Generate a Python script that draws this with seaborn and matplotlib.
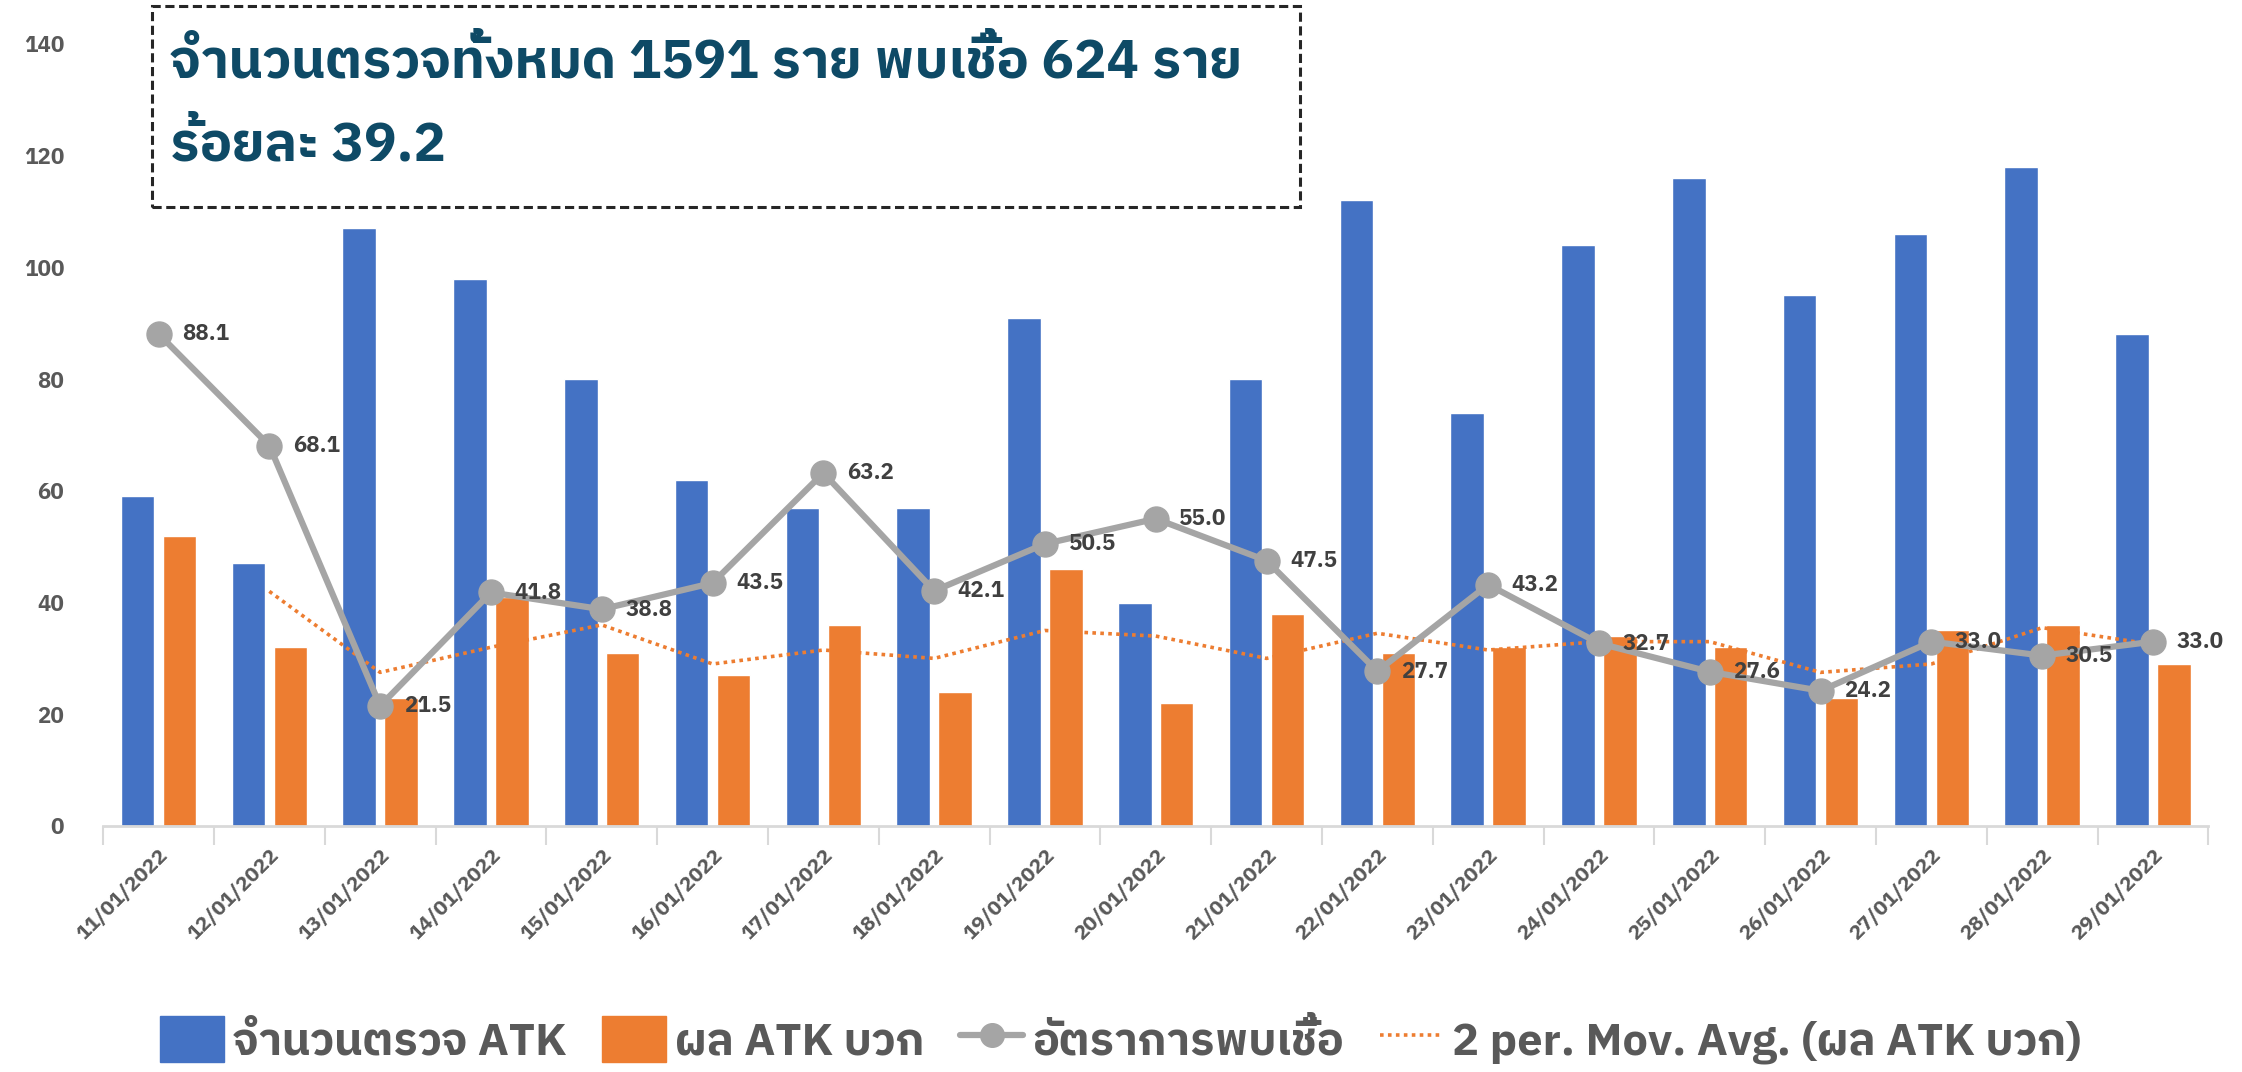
import numpy as np
import pandas as pd
import matplotlib
matplotlib.use("Agg")
import matplotlib.pyplot as plt
import seaborn as sns
from matplotlib import font_manager
from matplotlib.ft2font import FT2Font
from matplotlib.lines import Line2D
from matplotlib.patches import Patch, FancyBboxPatch

# data
dates = ["11/01/2022", "12/01/2022", "13/01/2022", "14/01/2022", "15/01/2022",
         "16/01/2022", "17/01/2022", "18/01/2022", "19/01/2022", "20/01/2022",
         "21/01/2022", "22/01/2022", "23/01/2022", "24/01/2022", "25/01/2022",
         "26/01/2022", "27/01/2022", "28/01/2022", "29/01/2022"]
tested = [59, 47, 107, 98, 80, 62, 57, 57, 91, 40, 80, 112, 74, 104, 116, 95, 106, 118, 88]
positive = [52, 32, 23, 41, 31, 27, 36, 24, 46, 22, 38, 31, 32, 34, 32, 23, 35, 36, 29]
rate = [88.1, 68.1, 21.5, 41.8, 38.8, 43.5, 63.2, 42.1, 50.5, 55.0,
        47.5, 27.7, 43.2, 32.7, 27.6, 24.2, 33.0, 30.5, 33.0]

lbl_tested = "จำนวนตรวจ ATK"
lbl_pos = "ผล ATK บวก"
lbl_rate = "อัตราการพบเชื้อ"
lbl_ma = "2 per. Mov. Avg. (ผล ATK บวก)"
title_lines = ["จำนวนตรวจทั้งหมด 1591 ราย พบเชื้อ 624 ราย", "ร้อยละ 39.2"]


def thai_fonts():
    # installed families with Thai glyphs -> set of weights
    found = {}
    for fe in font_manager.fontManager.ttflist:
        try:
            if 0x0E08 in FT2Font(fe.fname).get_charmap():
                w = fe.weight if isinstance(fe.weight, int) else 400
                found.setdefault(fe.name, set()).add(w)
        except Exception:
            continue
    return found


cands = thai_fonts()
thai = None
for pref in ["IBM Plex Sans Thai", "Sarabun", "Noto Sans Thai", "Prompt", "Bai Jamjuree", "Kanit"]:
    if pref in cands and max(cands[pref]) >= 700:
        thai = pref
        break
if thai is None:
    bold = [n for n, w in cands.items() if max(w) >= 700]
    thai = bold[0] if bold else (sorted(cands)[0] if cands else "DejaVu Sans")

sns.set_theme(style="white")
plt.rcParams["font.family"] = [thai, "DejaVu Sans"]

BLUE = "#4472C4"
ORANGE = "#ED7D31"
GRAY = "#A5A5A5"
TXT = "#595959"

df = pd.DataFrame({"date": dates * 2,
                   "value": tested + positive,
                   "series": [lbl_tested] * len(dates) + [lbl_pos] * len(dates)})

fig = plt.figure(figsize=(22.42, 10.72), dpi=100)
ax = fig.add_axes([0.046, 0.2295, 0.939, 0.7295])

sns.barplot(data=df, x="date", y="value", hue="series", palette=[BLUE, ORANGE],
            width=0.756, gap=0.2, ax=ax, legend=False, saturation=1)

x = np.arange(len(dates))
ax.plot(x, rate, color=GRAY, lw=4.5, marker="o", ms=18, zorder=5)
for xi, r in zip(x, rate):
    ax.annotate(f"{r:.1f}", (xi, r), xytext=(17, 0), textcoords="offset points",
                va="center", ha="left", fontsize=16, fontweight="bold", color="#404040",
                zorder=6)

# 2-period moving average of positives (Excel trendline)
ma = pd.Series(positive).rolling(2).mean()
ax.plot(x, ma, color=ORANGE, lw=2.6, ls=(0, (1, 1.2)), zorder=4)

ax.set_ylim(0, 140)
ax.set_xlim(-0.5, len(dates) - 0.5)
ax.set_yticks(range(0, 141, 20))
ax.set_xlabel("")
ax.set_ylabel("")
for s in ["top", "right", "left"]:
    ax.spines[s].set_visible(False)
ax.spines["bottom"].set_color("#D9D9D9")
ax.spines["bottom"].set_linewidth(2)
ax.set_xticks(x)
ax.set_xticklabels(dates, rotation=45, ha="right", rotation_mode="anchor",
                   fontsize=15, fontweight="bold", color=TXT)
ax.set_xticks(np.arange(-0.5, len(dates)), minor=True)
ax.tick_params(axis="x", which="major", length=0, pad=14)
ax.tick_params(axis="x", which="minor", length=14, width=1.5, color="#D9D9D9", bottom=True)
ax.tick_params(axis="y", length=0, labelsize=16, labelcolor=TXT, pad=28)
for t in ax.get_yticklabels():
    t.set_fontweight("bold")

# title box
box = FancyBboxPatch((0.068, 0.807), 0.512, 0.187, boxstyle="square,pad=0",
                     transform=fig.transFigure, fill=False, ec="#262626",
                     lw=2.2, ls=(0, (3, 1.5)))
fig.patches.append(box)
fig.text(0.076, 0.941, title_lines[0], fontsize=39, fontweight="bold",
         color="#0E4A66", va="center")
fig.text(0.076, 0.864, title_lines[1], fontsize=39, fontweight="bold",
         color="#0E4A66", va="center")

handles = [Patch(color=BLUE, label=lbl_tested),
           Patch(color=ORANGE, label=lbl_pos),
           Line2D([], [], color=GRAY, lw=4.5, marker="o", ms=17, label=lbl_rate),
           Line2D([], [], color=ORANGE, lw=2.6, ls=(0, (1, 1.2)), label=lbl_ma)]
leg = fig.legend(handles=handles, loc="lower center", bbox_to_anchor=(0.5, -0.03),
                 ncol=4, frameon=False, fontsize=32.5, handlelength=1.4,
                 handleheight=1.2, handletextpad=0.2, columnspacing=0.8)
for t in leg.get_texts():
    t.set_color(TXT)
    t.set_fontweight("bold")

fig.savefig("out.png", dpi=100)
